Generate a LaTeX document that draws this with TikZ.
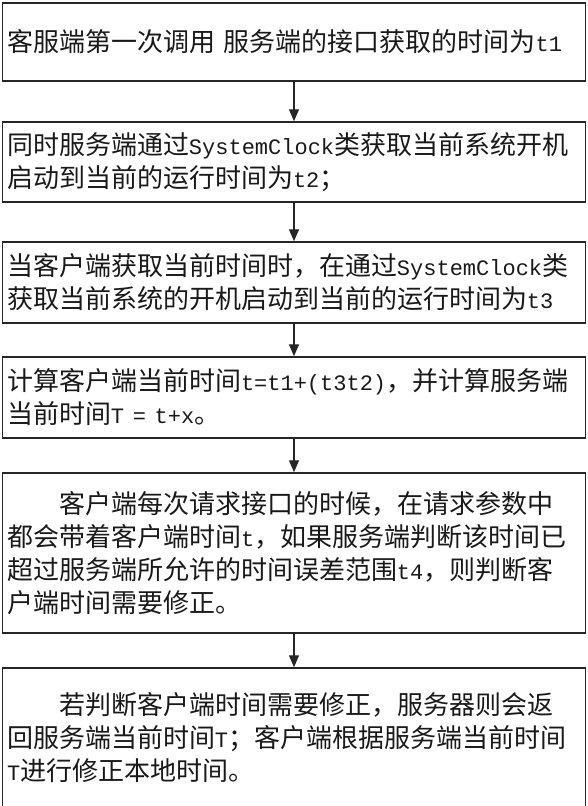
\documentclass[tikz,border=0pt]{standalone}
\usepackage{fontspec}
\setmainfont{Noto Sans CJK SC}
\newfontfamily\monof{Liberation Mono}
\usetikzlibrary{arrows.meta}
\newcommand\mlat[1]{{\monof\fontsize{22}{33}\selectfont #1}}
\begin{document}
\begin{tikzpicture}[x=1pt,y=-1pt,
  flowbox/.style={draw=black!85, line width=1.5pt, minimum width=583pt,
    text width=574pt, inner xsep=4.5pt, inner ysep=0pt, align=left,
    font=\fontsize{26}{33}\selectfont, text=black!90},
  flowarrow/.style={line width=1.3pt, draw=black!85,
    -{Triangle[length=12pt,width=10pt]}}]
\useasboundingbox (0,0) rectangle (588,806);
\clip (0,0) rectangle (588,806);
\node[flowbox, minimum height=78pt] (b1) at (294,42)
  {客服端第一次调用 服务端的接口获取的时间为\mlat{t1}};
\node[flowbox, minimum height=80pt] (b2) at (294,162)
  {同时服务端通过\mlat{SystemClock}类获取当前系统开机\\启动到当前的运行时间为\mlat{t2}；};
\node[flowbox, minimum height=81pt] (b3) at (294,282.5)
  {当客户端获取当前时间时，在通过\mlat{SystemClock}类\\获取当前系统的开机启动到当前的运行时间为\mlat{t3}};
\node[flowbox, minimum height=81pt] (b4) at (294,397.5)
  {计算客户端当前时间\mlat{t=t1+(t3t2)}，并计算服务端\\当前时间\mlat{T = t+x}。};
\node[flowbox, minimum height=160pt] (b5) at (294,553)
  {\hspace*{2em}客户端每次请求接口的时候，在请求参数中\\都会带着客户端时间\mlat{t}，如果服务端判断该时间已\\超过服务端所允许的时间误差范围\mlat{t4}，则判断客\\户端时间需要修正。};
\node[flowbox, minimum height=140pt] (b6) at (294,738)
  {\hspace*{2em}若判断客户端时间需要修正，服务器则会返\\回服务端当前时间\mlat{T}；客户端根据服务端当前时间\\\mlat{T}进行修正本地时间。};
\draw[flowarrow] (b1.south) -- (b2.north);
\draw[flowarrow] (b2.south) -- (b3.north);
\draw[flowarrow] (b3.south) -- (b4.north);
\draw[flowarrow] (b4.south) -- (b5.north);
\draw[flowarrow] (b5.south) -- (b6.north);
\end{tikzpicture}
\end{document}
